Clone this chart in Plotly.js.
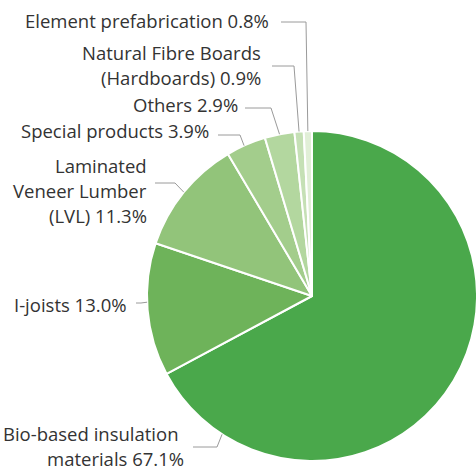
<!DOCTYPE html>
<html>
<head>
<meta charset="utf-8">
<script src="https://cdn.plot.ly/plotly-3.0.1.min.js"></script>
<style>
  html, body { margin: 0; padding: 0; overflow: hidden; background: #fff; }
  #chart { width: 480px; height: 468px; }
</style>
</head>
<body>
<div id="chart"></div>
<script>
// ---- data ----
const categories = [
  'Bio-based insulation<br>materials',
  'I-joists',
  'Laminated<br>Veneer Lumber<br>(LVL)',
  'Special products',
  'Others',
  'Natural Fibre Boards<br>(Hardboards)',
  'Element prefabrication'
];
const shares = [67.1, 13.0, 11.3, 3.9, 2.9, 0.9, 0.8];
const colors = ['#4aa84b', '#6eb35a', '#92c47a', '#a3cd8c', '#b3d79f', '#c5e0b5', '#e1efd7'];

// ---- label layout (pixels) ----
const W = 480, H = 468;
const CX = 312, CY = 296, R = 165;
// text right edge(s), first line centre y, start x, leader y, elbow x, fraction inside slice
const labelPos = [
  {tx: [180, 185], ty: 433, sx: 193, ly: 447, ex: 217, f: 0.881},
  {tx: [128], ty: 304, sx: 136, ly: 303, ex: 141, f: 0.556},
  {tx: [148], ty: 165, sx: 155, ly: 183, ex: 175, f: 0.5},
  {tx: [210], ty: 130, sx: 218, ly: 135, ex: 240, f: 0.45},
  {tx: [239], ty: 105, sx: 245, ly: 108, ex: 271, f: 0.5},
  {tx: [262], ty: 52,  sx: 272, ly: 66,  ex: 294, f: 0.5},
  {tx: [270], ty: 21,  sx: 281, ly: 22,  ex: 306, f: 0.5}
];
const LINE_H = 25.3;

const px = x => x / W;
const py = y => 1 - y / H;

const total = shares.reduce((a, b) => a + b, 0);
const annotations = [];
const shapes = [];
let cum = 0;
shares.forEach((v, i) => {
  const p = labelPos[i];
  const frac = (cum + v * p.f) / total;
  cum += v;
  const ang = frac * 2 * Math.PI; // clockwise from 12 o'clock
  const ax = CX + R * Math.sin(ang);
  const ay = CY - R * Math.cos(ang);
  const text = categories[i] + ' ' + v.toFixed(1) + '%';
  text.split('<br>').forEach((line, k) => {
    const tx = p.tx[Math.min(k, p.tx.length - 1)];
    annotations.push({
      xref: 'paper', yref: 'paper',
      x: px(tx), y: py(p.ty + k * LINE_H),
      xanchor: 'right', yanchor: 'middle',
      text: line, showarrow: false, borderpad: 0,
      font: {family: 'Open Sans, sans-serif', size: 18.5, color: '#333333'}
    });
  });
  const lineStyle = {color: '#9a9a9a', width: 1};
  shapes.push({type: 'line', xref: 'paper', yref: 'paper',
    x0: px(p.sx), y0: py(p.ly), x1: px(p.ex), y1: py(p.ly), line: lineStyle});
  shapes.push({type: 'line', xref: 'paper', yref: 'paper',
    x0: px(p.ex), y0: py(p.ly), x1: px(ax), y1: py(ay), line: lineStyle});
});

const trace = {
  type: 'pie',
  labels: categories,
  values: shares,
  sort: false,
  direction: 'clockwise',
  rotation: 0,
  textinfo: 'none',
  hoverinfo: 'none',
  showlegend: false,
  marker: {colors: colors, line: {color: '#ffffff', width: 2}},
  domain: {x: [px(CX - R), px(CX + R)], y: [py(CY + R), py(CY - R)]}
};

const layout = {
  width: W, height: H,
  margin: {l: 0, r: 0, t: 0, b: 0},
  paper_bgcolor: '#ffffff',
  showlegend: false,
  annotations: annotations,
  shapes: shapes
};

Plotly.newPlot('chart', [trace], layout, {displayModeBar: false, staticPlot: true});
</script>
</body>
</html>
